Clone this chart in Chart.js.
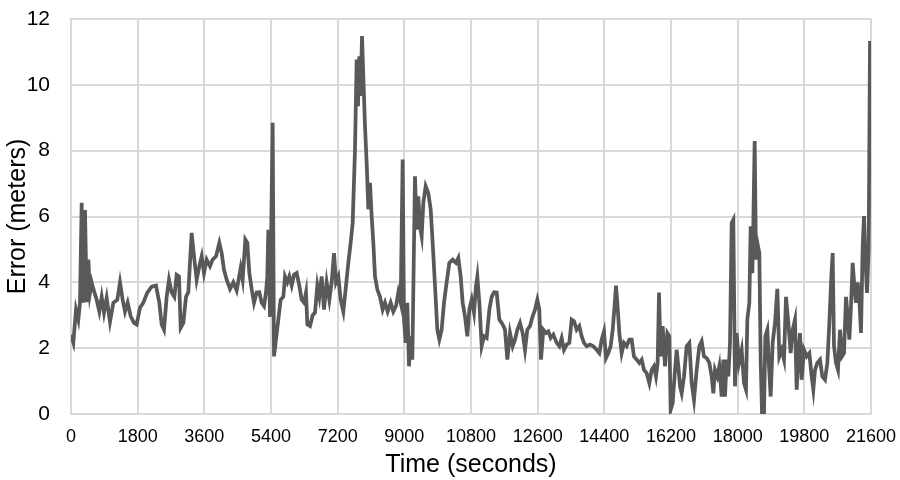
<!DOCTYPE html>
<html>
<head>
<meta charset="utf-8">
<script src="https://cdn.jsdelivr.net/npm/chart.js@4.4.1/dist/chart.umd.min.js"></script>
<style>
  html, body { margin: 0; padding: 0; background: #fff; }
  #wrap { width: 900px; height: 480px; }
</style>
</head>
<body>
<div id="wrap"><canvas id="errChart" width="900" height="480"></canvas></div>
<script>
// time stamps (seconds) and positioning error (meters)
const times = [
  0, 63, 135, 198, 243, 288, 333, 378, 423, 468, 513, 558, 603, 693, 765, 828, 891, 963,
  1053, 1143, 1251, 1323, 1395, 1458, 1530, 1611, 1701, 1773, 1863, 1953, 2061, 2178,
  2295, 2385, 2448, 2511, 2583, 2646, 2718, 2790, 2853, 2916, 2961, 3033, 3105, 3168,
  3258, 3321, 3393, 3465, 3528, 3591, 3663, 3753, 3825, 3915, 4005, 4068, 4131, 4203,
  4293, 4383, 4473, 4581, 4635, 4707, 4761, 4815, 4878, 4941, 5013, 5085, 5148, 5211,
  5265, 5300, 5328, 5373, 5445, 5481, 5535, 5598, 5661, 5733, 5778, 5841, 5895, 5958,
  6021, 6093, 6165, 6228, 6291, 6345, 6381, 6453, 6525, 6588, 6651, 6705, 6768, 6831,
  6903, 6975, 7038, 7101, 7155, 7218, 7281, 7353, 7425, 7488, 7551, 7605, 7668, 7713,
  7749, 7785, 7821, 7857, 7893, 7938, 7983, 8028, 8073, 8118, 8163, 8208, 8271, 8343,
  8415, 8478, 8550, 8631, 8703, 8775, 8838, 8901, 8955, 8991, 9036, 9081, 9126, 9171,
  9216, 9261, 9288, 9333, 9378, 9423, 9468, 9513, 9576, 9648, 9711, 9765, 9828, 9891,
  9945, 10008, 10071, 10143, 10215, 10305, 10395, 10458, 10521, 10575, 10638, 10701,
  10755, 10818, 10881, 10935, 10971, 11025, 11088, 11151, 11223, 11295, 11358, 11421,
  11493, 11565, 11655, 11718, 11781, 11853, 11925, 11988, 12051, 12123, 12195, 12258,
  12321, 12393, 12465, 12528, 12591, 12645, 12690, 12753, 12825, 12888, 12951, 13023,
  13113, 13185, 13248, 13311, 13383, 13455, 13518, 13581, 13653, 13725, 13788, 13851,
  13923, 14013, 14103, 14193, 14265, 14328, 14391, 14445, 14508, 14571, 14625, 14670,
  14715, 14751, 14805, 14868, 14931, 15003, 15075, 15138, 15201, 15273, 15345, 15408,
  15471, 15543, 15615, 15678, 15741, 15795, 15840, 15876, 15921, 15975, 16038, 16101,
  16155, 16191, 16245, 16308, 16353, 16398, 16443, 16488, 16551, 16623, 16695, 16758,
  16821, 16893, 16965, 17028, 17091, 17163, 17235, 17298, 17343, 17388, 17451, 17505,
  17568, 17613, 17658, 17703, 17748, 17793, 17838, 17883, 17928, 17973, 18036, 18108,
  18171, 18225, 18261, 18315, 18351, 18396, 18423, 18459, 18495, 18531, 18585, 18621,
  18657, 18711, 18747, 18801, 18846, 18891, 18945, 19008, 19071, 19125, 19188, 19251,
  19305, 19368, 19431, 19485, 19548, 19593, 19638, 19683, 19728, 19791, 19863, 19935,
  19998, 20043, 20088, 20151, 20223, 20286, 20358, 20421, 20475, 20529, 20565, 20601,
  20655, 20709, 20763, 20817, 20871, 20925, 20970, 21015, 21060, 21105, 21150, 21195,
  21240, 21285, 21330, 21375, 21411, 21447, 21492, 21537, 21573
];
const errors = [
  2.41, 2.17, 3.17, 2.87, 3.38, 6.42, 3.38, 6.2, 3.4, 4.69, 3.69, 4.0, 3.8, 3.47, 3.11, 3.56, 3.08, 3.53,
  2.8, 3.38, 3.47, 4.0, 3.47, 3.11, 3.38, 2.97, 2.77, 2.72, 3.23, 3.38, 3.69, 3.87,
  3.9, 3.38, 2.72, 2.56, 3.56, 4.08, 3.69, 3.56, 4.23, 4.18, 2.62, 2.77, 3.56, 3.7,
  5.5, 4.79, 4.08, 4.49, 4.79, 4.28, 4.69, 4.49, 4.69, 4.79, 5.2, 4.89, 4.38, 4.08,
  3.8, 4.0, 3.75, 4.43, 4.08, 5.3, 5.2, 4.28, 3.8, 3.38, 3.69, 3.7, 3.38, 3.28,
  3.69, 4.18, 5.6, 2.95, 8.85, 1.75, 2.26, 2.87, 3.47, 3.56, 4.18, 4.0, 4.18, 3.9,
  4.23, 4.28, 3.9, 3.47, 3.38, 3.69, 2.72, 2.67, 3.0, 3.08, 3.9, 3.56, 4.18, 3.17,
  4.0, 3.47, 4.0, 4.89, 4.0, 4.18, 3.47, 3.11, 3.9, 4.59, 5.2, 5.8, 8.03, 10.77,
  9.35, 10.87, 9.66, 11.48, 10.26, 8.74, 7.63, 6.22, 7.02, 6.01, 5.2, 4.18, 3.78, 3.56,
  3.17, 3.38, 3.11, 3.38, 3.11, 3.28, 3.69, 3.38, 7.73, 2.87, 2.16, 3.38, 1.45, 2.36,
  1.65, 5.2, 7.22, 5.6, 6.61, 5.7, 5.4, 6.42, 6.92, 6.71, 6.22, 5.2, 3.9, 2.56,
  2.26, 2.56, 3.38, 4.0, 4.59, 4.69, 4.59, 4.74, 4.18, 3.38, 2.97, 2.36,
  3.17, 3.47, 3.08, 3.9, 4.18, 3.38, 2.06, 2.36, 2.31, 3.17, 3.56, 3.7,
  3.69, 2.87, 2.72, 2.56, 1.65, 2.46, 2.06, 2.26, 2.56, 2.77, 2.46, 1.95,
  2.56, 2.67, 2.97, 3.17, 3.47, 3.17, 1.65, 2.56, 2.46, 2.51, 2.31, 2.41,
  2.16, 2.06, 2.31, 1.95, 2.11, 2.16, 2.87, 2.82, 2.56, 2.67, 2.36, 2.16,
  2.06, 2.11, 2.06, 1.95, 1.85, 2.26, 2.51, 1.7, 1.85, 2.06, 2.56, 3.17,
  3.9, 3.38, 2.46, 1.85, 2.16, 2.06, 2.26, 2.26, 1.75, 1.65, 1.55, 1.65,
  1.34, 1.24, 0.94, 1.34, 1.45, 1.14, 1.55, 3.69, 1.75, 2.67, 1.45, 2.46,
  2.36, 0.13, 0.33, 1.34, 1.95, 1.45, 0.84, 0.63, 1.14, 2.06, 2.16, 0.94,
  0.43, 1.34, 2.06, 2.21, 1.75, 1.7, 1.55, 1.14, 0.63, 1.34, 1.14, 1.45,
  0.53, 1.65, 0.53, 1.65, 1.14, 2.16, 5.8, 5.9, 0.84, 2.46, 1.55, 1.95,
  0.94, 0.74, 2.87, 3.38, 5.7, 4.28, 5.8, 8.29, 4.69, 5.2, 4.89, 1.65,
  0.03, 0.03, 2.36, 2.56, 1.45, 0.53, 2.16, 2.77, 3.8, 1.75, 1.95, 1.65,
  3.56, 2.77, 1.85, 2.56, 2.87, 0.74, 1.75, 2.46, 1.04, 1.95, 1.75, 1.85,
  1.14, 0.74, 1.34, 1.55, 1.65, 1.14, 1.04, 1.55, 2.77, 4.18, 4.89, 2.06,
  1.55, 1.34, 2.56, 1.75, 1.85, 3.56, 2.97, 2.26, 3.28, 4.59, 3.9, 3.38,
  4.0, 3.47, 2.46, 5.09, 6.01, 4.79, 3.68, 4.99, 11.33
];

const points = times.map((t, i) => ({ x: t, y: errors[i] }));

const gridColor = '#d9d9d9';
const textColor = '#000000';
const fontFamily = 'Arial, "Liberation Sans", sans-serif';

const ctx = document.getElementById('errChart').getContext('2d');
const errChart = new Chart(ctx, {
    type: 'line',
    data: {
        datasets: [{
            data: points,
            borderColor: '#595959',
            borderWidth: 3.75,
            pointRadius: 0,
            tension: 0,
            fill: false
        }]
    },
    options: {
        responsive: false,
        animation: false,
        layout: { padding: { top: 19, right: 29, left: 0, bottom: 0 } },
        plugins: {
            legend: { display: false },
            tooltip: { enabled: false }
        },
        scales: {
            x: {
                type: 'linear',
                min: 0,
                max: 21600,
                ticks: {
                    stepSize: 1800,
                    color: textColor,
                    font: { family: fontFamily, size: 18 },
                    padding: 12,
                    maxRotation: 0,
                    autoSkip: false,
                    callback: (v) => String(v)
                },
                grid: { color: gridColor, lineWidth: 2, drawTicks: false },
                border: { color: gridColor, width: 2 },
                title: {
                    display: true,
                    text: 'Time (seconds)',
                    color: textColor,
                    font: { family: fontFamily, size: 25 },
                    padding: { top: 2, bottom: 0 }
                },
                afterFit: (scale) => {
                    scale.height = 66;
                    scale.paddingLeft = 0;
                    scale.paddingRight = 0;
                }
            },
            y: {
                min: 0,
                max: 12,
                ticks: {
                    stepSize: 2,
                    color: textColor,
                    font: { family: fontFamily, size: 21 },
                    padding: 21
                },
                grid: { color: gridColor, lineWidth: 2, drawTicks: false },
                border: { color: gridColor, width: 2 },
                title: {
                    display: true,
                    text: 'Error (meters)',
                    color: textColor,
                    font: { family: fontFamily, size: 25 },
                    padding: { top: 3, bottom: 0 }
                },
                afterFit: (scale) => {
                    scale.width = 71;
                    scale.paddingTop = 0;
                    scale.paddingBottom = 0;
                }
            }
        }
    }
});
</script>
</body>
</html>
